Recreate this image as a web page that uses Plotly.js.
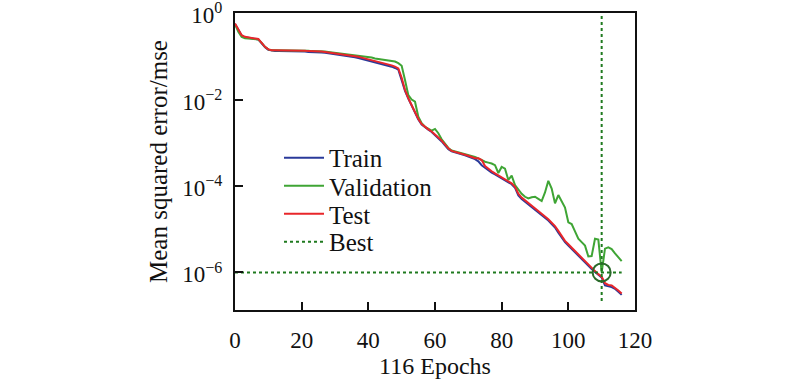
<!DOCTYPE html>
<html>
<head>
<meta charset="utf-8">
<script src="https://cdn.plot.ly/plotly-3.0.1.min.js"></script>
<style>html,body{margin:0;padding:0;background:#fff;}#chart{width:800px;height:386px;}</style>
</head>
<body>
<div id="chart"></div>
<script>
// Epoch numbers 0..116
const epochs = [
  0,1,2,3,4,5,6,7,8,9,10,11,12,13,14,15,16,17,18,19,
  20,21,22,23,24,25,26,27,28,29,30,31,32,33,34,35,36,37,38,39,
  40,41,42,43,44,45,46,47,48,49,50,51,52,53,54,55,56,57,58,59,
  60,61,62,63,64,65,66,67,68,69,70,71,72,73,74,75,76,77,78,79,
  80,81,82,83,84,85,86,87,88,89,90,91,92,93,94,95,96,97,98,99,
  100,101,102,103,104,105,106,107,108,109,110,111,112,113,114,115,116
];

const trainLog10 = [
  -0.25,-0.40,-0.52,-0.56,-0.57,-0.58,-0.59,-0.61,-0.70,-0.79,
  -0.85,-0.87,-0.88,-0.88,-0.88,-0.88,-0.88,-0.88,-0.88,-0.89,
  -0.89,-0.89,-0.90,-0.90,-0.90,-0.91,-0.91,-0.92,-0.93,-0.94,
  -0.95,-0.96,-0.97,-0.98,-0.99,-1.00,-1.02,-1.04,-1.06,-1.08,
  -1.10,-1.12,-1.14,-1.15,-1.17,-1.19,-1.21,-1.24,-1.27,-1.31,
  -1.55,-1.80,-1.98,-2.15,-2.30,-2.46,-2.58,-2.65,-2.70,-2.75,
  -2.82,-2.90,-2.97,-3.06,-3.15,-3.20,-3.22,-3.24,-3.26,-3.29,
  -3.32,-3.35,-3.38,-3.43,-3.52,-3.58,-3.64,-3.69,-3.73,-3.78,
  -3.82,-3.86,-3.91,-3.96,-4.04,-4.22,-4.30,-4.36,-4.42,-4.48,
  -4.54,-4.60,-4.67,-4.74,-4.80,-4.88,-4.96,-5.08,-5.20,-5.30,
  -5.38,-5.46,-5.53,-5.60,-5.68,-5.76,-5.84,-5.92,-5.99,-6.06,
  -6.12,-6.30,-6.32,-6.34,-6.38,-6.45,-6.52
];

const validationLog10 = [
  -0.26,-0.43,-0.55,-0.58,-0.59,-0.60,-0.60,-0.61,-0.69,-0.78,
  -0.84,-0.86,-0.86,-0.86,-0.86,-0.86,-0.86,-0.86,-0.86,-0.86,
  -0.87,-0.87,-0.87,-0.88,-0.88,-0.88,-0.89,-0.89,-0.90,-0.91,
  -0.92,-0.93,-0.94,-0.94,-0.95,-0.96,-0.97,-0.98,-0.99,-1.00,
  -1.02,-1.03,-1.05,-1.06,-1.07,-1.08,-1.09,-1.10,-1.12,-1.16,
  -1.22,-1.55,-1.90,-2.00,-2.05,-2.40,-2.55,-2.63,-2.68,-2.72,
  -2.68,-2.78,-2.92,-3.03,-3.12,-3.18,-3.20,-3.22,-3.24,-3.26,
  -3.28,-3.30,-3.33,-3.36,-3.40,-3.44,-3.46,-3.48,-3.52,-3.70,
  -3.56,-3.60,-3.86,-3.76,-3.98,-4.08,-4.18,-4.25,-4.29,-4.26,
  -4.25,-4.30,-4.35,-4.15,-3.88,-4.06,-4.40,-4.21,-4.36,-4.50,
  -4.84,-4.88,-5.05,-5.22,-5.30,-5.38,-5.63,-5.62,-5.22,-5.24,
  -6.00,-5.45,-5.42,-5.46,-5.56,-5.66,-5.74
];

const testLog10 = [
  -0.24,-0.39,-0.51,-0.55,-0.56,-0.57,-0.58,-0.60,-0.69,-0.78,
  -0.84,-0.86,-0.86,-0.86,-0.86,-0.86,-0.86,-0.86,-0.87,-0.87,
  -0.87,-0.87,-0.88,-0.88,-0.88,-0.89,-0.89,-0.90,-0.91,-0.92,
  -0.93,-0.94,-0.95,-0.96,-0.97,-0.98,-0.99,-1.01,-1.03,-1.05,
  -1.07,-1.09,-1.11,-1.12,-1.14,-1.16,-1.18,-1.21,-1.24,-1.28,
  -1.50,-1.78,-1.97,-2.14,-2.28,-2.45,-2.57,-2.64,-2.69,-2.74,
  -2.80,-2.88,-2.95,-3.04,-3.13,-3.19,-3.21,-3.23,-3.25,-3.27,
  -3.30,-3.33,-3.36,-3.36,-3.40,-3.54,-3.61,-3.66,-3.71,-3.76,
  -3.80,-3.84,-3.89,-3.94,-4.02,-4.18,-4.27,-4.33,-4.39,-4.45,
  -4.51,-4.57,-4.64,-4.71,-4.77,-4.85,-4.93,-5.04,-5.16,-5.27,
  -5.35,-5.43,-5.50,-5.57,-5.65,-5.73,-5.81,-5.89,-5.97,-6.04,
  -6.10,-6.25,-6.29,-6.30,-6.35,-6.42,-6.49
];

const bestEpoch = 110;
const bestValue = 1.0e-6;
const seriesNames = ['Train', 'Validation', 'Test', 'Best'];
const xTickVals = [0, 20, 40, 60, 80, 100, 120];
const yTickVals = [1, 1e-2, 1e-4, 1e-6];
const yTickText = ['10<sup>0</sup>', '10<sup>\u22122</sup>', '10<sup>\u22124</sup>', '10<sup>\u22126</sup>'];

const toValue = arr => arr.map(v => Math.pow(10, v));
const FONT = "'Liberation Serif', 'DejaVu Serif', serif";
const lastEpoch = epochs[epochs.length - 1];
const yRange = [-6.87, 0.002];

const traces = [
  {x: epochs, y: toValue(trainLog10), name: seriesNames[0], mode: 'lines', legend: 'legend',
   line: {color: '#2a3a9a', width: 2}},
  {x: epochs, y: toValue(validationLog10), name: seriesNames[1], mode: 'lines', legend: 'legend2',
   line: {color: '#3fa535', width: 2}},
  {x: epochs, y: toValue(testLog10), name: seriesNames[2], mode: 'lines', legend: 'legend3',
   line: {color: '#e8262a', width: 2}},
  {x: [0, lastEpoch], y: [bestValue, bestValue], name: seriesNames[3], mode: 'lines', legend: 'legend4',
   line: {color: '#1f7a1f', width: 2, dash: 'dot'}},
  {x: [bestEpoch, bestEpoch], y: [Math.pow(10, -0.07), Math.pow(10, -6.72)], mode: 'lines',
   showlegend: false, line: {color: '#1f7a1f', width: 2, dash: 'dot'}},
  {x: [bestEpoch], y: [bestValue], mode: 'markers', showlegend: false,
   marker: {symbol: 'circle-open', size: 18, color: '#2a6a2a', line: {width: 2, color: '#2a6a2a'}}}
];

const legendBase = (y) => ({x: 0.11, y: y, xanchor: 'left', yanchor: 'middle',
  bgcolor: 'rgba(0,0,0,0)', borderwidth: 0, itemwidth: 40,
  font: {family: FONT, size: 25, color: '#111'}});

const layout = {
  width: 800, height: 386,
  margin: {l: 235, r: 165, t: 13, b: 76},
  paper_bgcolor: '#fff', plot_bgcolor: '#fff',
  font: {family: FONT, size: 24, color: '#111'},
  showlegend: true,
  legend: legendBase(0.512),
  legend2: legendBase(0.4175),
  legend3: legendBase(0.323),
  legend4: legendBase(0.229),
  xaxis: {
    type: 'linear', range: [0, 120], tickvals: xTickVals,
    ticks: 'inside', ticklen: 8, tickwidth: 2, tickcolor: '#111',
    showline: true, linecolor: '#111', linewidth: 2, mirror: true,
    showgrid: false, zeroline: false, ticklabelstandoff: 8,
    tickfont: {family: FONT, size: 23, color: '#111'},
    title: {text: '116 Epochs', font: {family: FONT, size: 24, color: '#111'}, standoff: 5}
  },
  yaxis: {
    type: 'log', range: yRange, tickvals: yTickVals, ticktext: yTickText,
    ticks: 'inside', ticklen: 8, tickwidth: 2, tickcolor: '#111',
    showline: true, linecolor: '#111', linewidth: 2, mirror: true,
    showgrid: false, zeroline: false, ticklabelstandoff: 6,
    ticklabeloverflow: 'allow', ticklabelshift: 2,
    tickfont: {family: FONT, size: 23, color: '#111'},
    title: {text: 'Mean squared error/mse', font: {family: FONT, size: 25, color: '#111'}, standoff: 8}
  }
};

Plotly.newPlot('chart', traces, layout, {displayModeBar: false, staticPlot: true});
</script>
</body>
</html>
